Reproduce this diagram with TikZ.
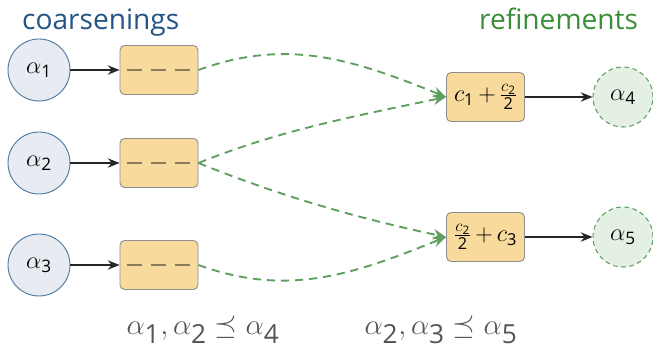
\documentclass[tikz,border=0pt]{standalone}
\usepackage{amsmath}
\usepackage{fontspec}
\setmainfont{Open Sans}
\usetikzlibrary{arrows.meta}
\definecolor{titleblue}{HTML}{245486}
\definecolor{titlegreen}{HTML}{3A8E3A}
\definecolor{circblue}{HTML}{4E7BA6}
\definecolor{circbluefill}{HTML}{E8ECF2}
\definecolor{boxfill}{HTML}{F8DB9C}
\definecolor{boxdraw}{HTML}{8E8E8E}
\definecolor{dashcol}{HTML}{8C7D5B}
\definecolor{flowgreen}{HTML}{5E9E5E}
\definecolor{circgreenfill}{HTML}{E4F0E4}
\definecolor{labgray}{HTML}{555555}
\newcommand{\sd}[1]{\text{#1}}
\begin{document}
\begin{tikzpicture}[x=0.03cm,y=0.03cm,
  srccirc/.style={circle,draw=circblue,fill=circbluefill,line width=0.8pt,minimum size=1.86cm,inner sep=0pt,font=\fontsize{21}{25}\selectfont},
  tgtcirc/.style={circle,draw=flowgreen,fill=circgreenfill,dashed,dash pattern=on 4pt off 3pt,line width=0.9pt,minimum size=1.8cm,inner sep=0pt,font=\fontsize{21}{25}\selectfont},
  opbox/.style={rectangle,rounded corners=4pt,draw=boxdraw,fill=boxfill,line width=0.8pt,minimum width=2.34cm,minimum height=1.47cm,inner sep=0pt,font=\fontsize{20}{23}\selectfont},
  blackarrow/.style={-{Stealth[length=10pt,width=8pt]},line width=1.2pt,draw=black!85},
  greenflow/.style={-{Stealth[length=11pt,width=9pt]},line width=1.6pt,draw=flowgreen,dash pattern=on 7pt off 5pt},
  boxdash/.style={draw=dashcol,line width=1.6pt,dash pattern=on 0.45cm off 0.27cm},
  bottomlab/.style={anchor=base,inner sep=0pt,text=labgray,font=\fontsize{32}{36}\selectfont},
  titlelab/.style={anchor=base west,font=\fontsize{24}{28}\selectfont}
]
\useasboundingbox (0,0) rectangle (653,349);

\node[titlelab,text=titleblue] (tc) at (18,319) {coarsenings};
\node[titlelab,text=titlegreen] (tr) at (475,319) {refinements};

\node[srccirc] (a1) at (39,279) {$\alpha_{\sd{1}}$};
\node[srccirc] (a2) at (39,186) {$\alpha_{\sd{2}}$};
\node[srccirc] (a3) at (39,84) {$\alpha_{\sd{3}}$};

\node[opbox] (b1) at (159,279) {};
\node[opbox] (b2) at (159,186) {};
\node[opbox] (b3) at (159,84) {};
\foreach \b in {b1,b2,b3}{
  \draw[boxdash] ([xshift=0.21cm]\b.west) -- ([xshift=-0.21cm]\b.east);
}

\node[opbox] (r1) at (485.5,252) {$c_{\sd{1}}\,{+}\,\frac{c_{\sd{2}}}{\sd{2}}$};
\node[opbox] (r2) at (485.5,112) {$\frac{c_{\sd{2}}}{\sd{2}}\,{+}\,c_{\sd{3}}$};

\node[tgtcirc] (a4) at (623,252) {$\alpha_{\sd{4}}$};
\node[tgtcirc] (a5) at (623,112) {$\alpha_{\sd{5}}$};

\draw[blackarrow] (a1) -- (b1);
\draw[blackarrow] (a2) -- (b2);
\draw[blackarrow] (a3) -- (b3);
\draw[blackarrow] (r1) -- (a4);
\draw[blackarrow] (r2) -- (a5);

\draw[greenflow] (b1.east) .. controls +(20:95) and +(158:100) .. (r1.west);
\draw[greenflow] (b2.east) .. controls +(22:90) and +(192:90) .. (r1.west);
\draw[greenflow] (b2.east) .. controls +(-22:90) and +(168:90) .. (r2.west);
\draw[greenflow] (b3.east) .. controls +(-20:95) and +(202:100) .. (r2.west);

\node[bottomlab] (l1) at (203,14) {$\alpha_{\sd{1}}, \alpha_{\sd{2}} \preceq \alpha_{\sd{4}}$};
\node[bottomlab] (l2) at (441,14) {$\alpha_{\sd{2}}, \alpha_{\sd{3}} \preceq \alpha_{\sd{5}}$};
\end{tikzpicture}
\end{document}
